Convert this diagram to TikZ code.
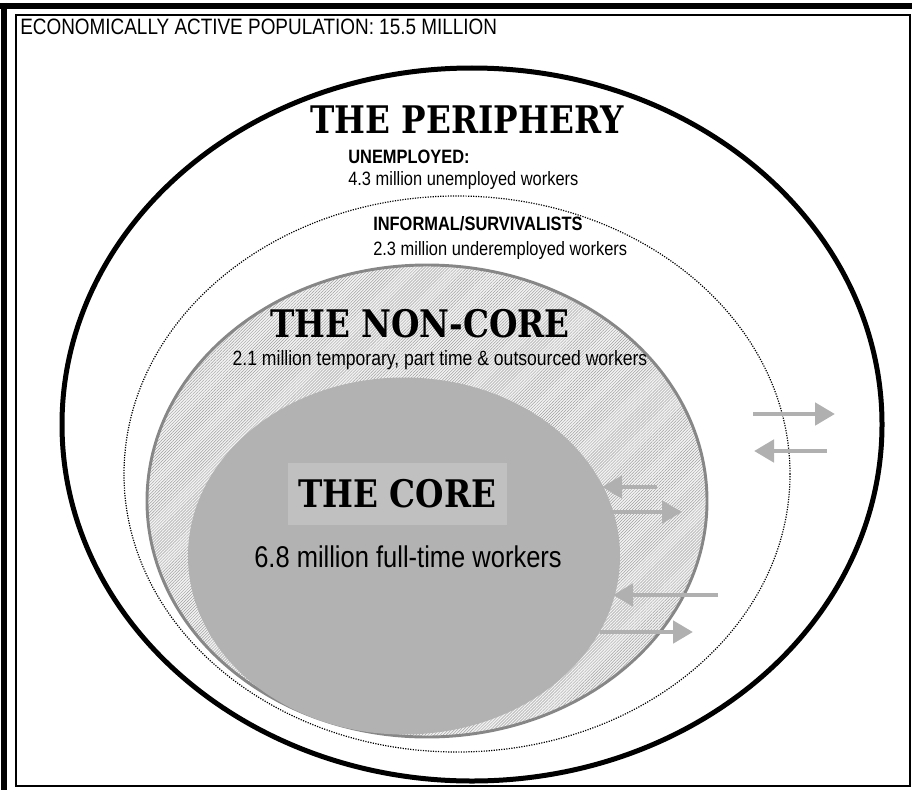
\documentclass[tikz,border=0pt]{standalone}
\usepackage{fontspec}
\setmainfont{Liberation Sans}[FakeStretch=0.85]
\newfontfamily\stencilfont{DejaVu Serif}[FakeStretch=0.86]
\usepackage{xcolor}
\definecolor{coreGray}{HTML}{B2B2B2}
\definecolor{boxGray}{HTML}{C0C0C0}
\definecolor{ringGray}{HTML}{878787}
\definecolor{hatchGray}{HTML}{A0A0A0}
\definecolor{arrowGray}{HTML}{B0B0B0}
\usepackage{tikz}
\usetikzlibrary{shapes.geometric,arrows.meta,positioning,patterns.meta}
\tikzset{%
  layerShape/.style={%
    ellipse,
    inner sep=0pt
  },
  peripheryRing/.style={%
    layerShape,
    draw=black,
    line width=3.75pt
  },
  informalRing/.style={%
    layerShape,
    draw=black,
    line width=0.9pt,
    densely dotted
  },
  noncoreRing/.style={%
    layerShape,
    draw=ringGray,
    line width=2.2pt,
    preaction={fill=gray!10},
    pattern={Lines[angle=45,distance=1.6pt,line width=0.35pt]},
    pattern color=hatchGray
  },
  coreBlob/.style={%
    layerShape,
    fill=coreGray
  },
  stencilTitle/.style={%
    font=\stencilfont\bfseries\fontsize{28.5}{30}\selectfont,
    inner sep=0pt,
    anchor=base
  },
  plainLabel/.style={%
    font=\fontsize{14.5}{16}\selectfont,
    inner sep=0pt,
    anchor=base west
  },
  flowArrow/.style={%
    -{Triangle[length=15pt,width=16.5pt]},
    line width=3.6pt,
    color=arrowGray
  }
}

\begin{document}
\begin{tikzpicture}[x=0.75pt,y=-0.75pt]
            \useasboundingbox (0,0) rectangle (912,792);

            % frame
            \draw[line width=4pt] (0,6) -- (912,6);
            \draw[line width=4.5pt] (4,3) -- (4,790);
            \draw[line width=1.1pt] (16,15) rectangle (910,786);

            \node[font=\fontsize{16.7}{18}\selectfont, anchor=base west, inner sep=0pt] (eap) at (20,35)
            {ECONOMICALLY ACTIVE POPULATION: 15.5 MILLION};

            % layers
            \node[peripheryRing, minimum width=615pt, minimum height=534.75pt] (periphery) at (472,424.5) {};
            \node[informalRing, minimum width=499.5pt, minimum height=417pt] (informal) at (457,474) {};
            \node[noncoreRing, minimum width=420pt, minimum height=354pt] (noncore) at (427,501) {};
            \node[coreBlob, minimum width=324pt, minimum height=267.75pt] (core) at (404,556) {};

            % labels
            \node[stencilTitle] (peripheryTitle) at (467,133) {THE PERIPHERY};
            \node[plainLabel, font=\bfseries\fontsize{14.5}{16}\selectfont] (unempHead) at (348,163) {UNEMPLOYED:};
            \node[plainLabel] (unempText) at (348,185) {4.3 million unemployed workers};
            \node[plainLabel, font=\bfseries\fontsize{14.5}{16}\selectfont] (informalHead) at (373,230) {INFORMAL/SURVIVALISTS};
            \node[plainLabel] (informalText) at (373,255) {2.3 million underemployed workers};

            \node[stencilTitle] (noncoreTitle) at (420,337) {THE NON-CORE};
            \node[plainLabel, anchor=base, font=\fontsize{15.5}{17}\selectfont] (noncoreText) at (440,365)
            {2.1 million temporary, part time \& outsourced workers};

            \node[fill=boxGray, minimum width=164.25pt, minimum height=46.5pt, inner sep=0pt,
                  font=\stencilfont\bfseries\fontsize{28.5}{30}\selectfont] (coreTag) at (397.5,494) {THE CORE};
            \node[anchor=base, inner sep=0pt, font=\fontsize{22.5}{24}\selectfont] (coreText) at (408,567)
            {6.8 million full-time workers};

            % flows between layers
            \coordinate (outerOutTail) at (753,414);
            \coordinate (outerOutTip) at (835,414);
            \coordinate (outerInTail) at (827,451);
            \coordinate (outerInTip) at (754,451);
            \coordinate (coreInTailA) at (657,487);
            \coordinate (coreInTipA) at (602,487);
            \coordinate (coreOutTailA) at (610,512);
            \coordinate (coreOutTipA) at (682,512);
            \coordinate (coreInTailB) at (718,595);
            \coordinate (coreInTipB) at (613,595);
            \coordinate (coreOutTailB) at (600,632);
            \coordinate (coreOutTipB) at (693,632);

            \draw[flowArrow] (outerOutTail) -- (outerOutTip);
            \draw[flowArrow] (outerInTail) -- (outerInTip);
            \draw[flowArrow] (coreInTailA) -- (coreInTipA);
            \draw[flowArrow] (coreOutTailA) -- (coreOutTipA);
            \draw[flowArrow] (coreInTailB) -- (coreInTipB);
            \draw[flowArrow] (coreOutTailB) -- (coreOutTipB);

        \end{tikzpicture}
\end{document}
